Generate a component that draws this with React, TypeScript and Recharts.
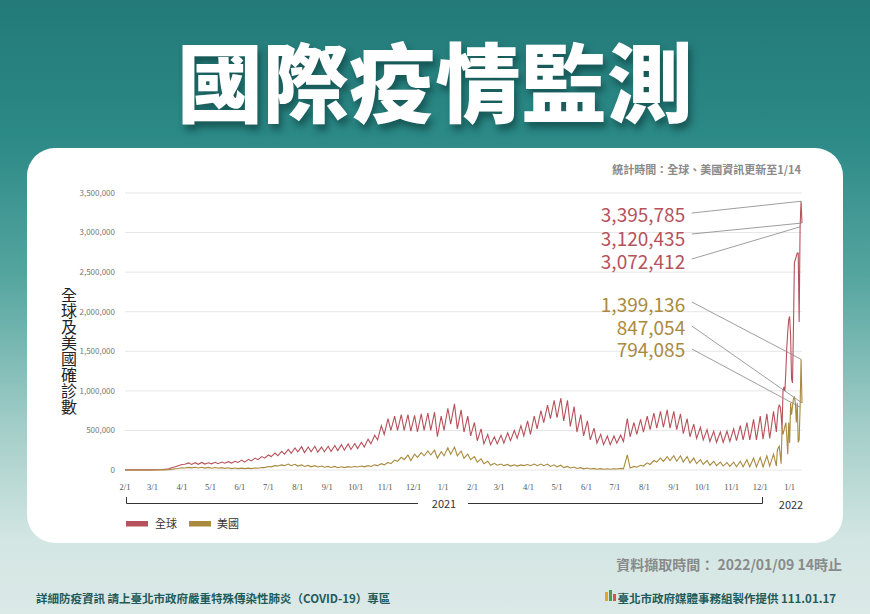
import React from "react";
import { LineChart, Line, XAxis, YAxis, CartesianGrid, ReferenceLine, ReferenceDot } from "recharts";

// weekly low / high of daily new cases, in thousands, one pair per week from 2020-02-01
const globalLow = [
  2, 2, 1, 1, 1, 3, 10, 28, 55, 72, 70, 72, 75, 78, 80, 85, 88, 95, 100, 115,
  130, 150, 170, 180, 200, 210, 230, 220, 230, 225, 230, 235, 245, 250, 260, 270, 290, 330, 380, 450,
  500, 500, 500, 490, 480, 500, 500, 420, 500, 580, 520, 480, 430, 370, 330, 320, 330, 340, 370, 400,
  430, 450, 520, 600, 650, 660, 620, 550, 480, 430, 380, 340, 320, 320, 340, 360, 420, 450, 480, 510,
  530, 540, 530, 510, 460, 420, 400, 380, 360, 350, 350, 360, 370, 380, 380, 380, 390, 400,
];
const globalHigh = [
  3, 3, 3, 2, 3, 6, 16, 40, 70, 90, 92, 95, 92, 98, 100, 105, 110, 125, 135, 150,
  170, 190, 215, 235, 260, 280, 295, 290, 300, 290, 300, 310, 320, 330, 335, 350, 390, 440, 560, 650,
  680, 700, 700, 690, 710, 720, 730, 680, 780, 835, 760, 680, 600, 520, 450, 420, 440, 470, 500, 560,
  620, 680, 750, 820, 880, 910, 880, 800, 700, 620, 530, 450, 430, 430, 440, 650, 600, 640, 680, 720,
  740, 760, 740, 710, 650, 580, 540, 510, 490, 480, 490, 520, 560, 600, 640, 680, 710, 740,
];
const usLow = [
  0, 0, 0, 0, 0, 0, 1, 8, 18, 25, 27, 25, 24, 22, 22, 20, 18, 17, 17, 18,
  22, 30, 40, 50, 55, 55, 50, 45, 40, 38, 35, 32, 28, 30, 35, 38, 40, 45, 55, 65,
  80, 110, 130, 120, 160, 180, 190, 150, 180, 200, 180, 150, 130, 100, 80, 60, 60, 55, 50, 50,
  55, 55, 55, 55, 45, 40, 30, 25, 20, 15, 12, 10, 10, 10, 12, 15, 25, 35, 50, 70,
  100, 110, 120, 110, 100, 90, 80, 70, 60, 55, 50, 45, 40, 40, 40, 40, 40, 50,
];
const usHigh = [
  0, 0, 0, 0, 0, 1, 3, 15, 28, 33, 34, 35, 33, 32, 30, 28, 25, 24, 24, 26,
  32, 45, 55, 65, 75, 72, 65, 58, 55, 50, 45, 45, 40, 42, 45, 50, 55, 65, 80, 95,
  125, 160, 190, 200, 220, 240, 250, 230, 280, 290, 240, 200, 170, 140, 110, 85, 75, 70, 65, 65,
  70, 75, 75, 75, 65, 60, 45, 38, 30, 25, 20, 17, 15, 15, 20, 190, 45, 60, 90, 120,
  150, 170, 180, 180, 170, 150, 130, 120, 110, 100, 95, 100, 110, 130, 150, 160, 180, 200,
];

// daily values, in thousands, 2021-12-18 .. 2022-01-14
const tailStart = 686;
const globalTail = [
  480, 650, 780, 820, 800, 700, 520, 1000, 1050, 1000, 1250, 1550, 1750, 1900,
  1940, 1700, 1150, 1100, 1800, 2620, 2660, 2700, 2740, 2740, 1870, 3072.412, 3395.785, 3120.435,
];
const usTail = [
  50, 250, 280, 300, 200, 80, 540, 450, 500, 550, 600, 420, 200, 600,
  340, 850, 700, 800, 900, 920, 850, 600, 850, 350, 380, 794.085, 1399.136, 847.054,
];

const monthDays = [0, 29, 60, 90, 121, 151, 182, 213, 243, 274, 304, 335, 366, 394, 425, 455, 486, 516, 547, 578, 608, 639, 669, 700];
const monthLabels = ["2/1", "3/1", "4/1", "5/1", "6/1", "7/1", "8/1", "9/1", "10/1", "11/1", "12/1", "1/1", "2/1", "3/1", "4/1", "5/1", "6/1", "7/1", "8/1", "9/1", "10/1", "11/1", "12/1", "1/1"];
const yTicks = [0, 500000, 1000000, 1500000, 2000000, 2500000, 3000000, 3500000];

const calloutLabels = ["3,395,785", "3,120,435", "3,072,412", "1,399,136", "847,054", "794,085"];
const calloutDays = [712, 713, 711, 712, 713, 711];
const calloutValues = [3395785, 3120435, 3072412, 1399136, 847054, 794085];

// where the callout texts sit (chart units)
const calloutTextX = 590;
const calloutLineX = 597;
const calloutTextY = [3235000, 2944000, 2653000, 2110000, 1819000, 1529000];
const calloutLineY = [3247000, 2982000, 2666000, 2123000, 1819000, 1529000];

const RED = "#b6525b";
const GOLD = "#a98a3e";
const FONT = "'Noto Sans CJK TC', 'Noto Sans', sans-serif";

const rows: { d: number; g: number; u: number }[] = [];
globalLow.forEach((lo, w) => {
  rows.push({ d: w * 7, g: lo * 1000, u: usLow[w] * 1000 });
  rows.push({ d: w * 7 + 4, g: globalHigh[w] * 1000, u: usHigh[w] * 1000 });
});
globalTail.forEach((v, i) => {
  rows.push({ d: tailStart + i, g: Math.round(v * 1000), u: Math.round(usTail[i] * 1000) });
});

const dayLabel = (d: number) => monthLabels[monthDays.indexOf(d)] ?? "";

const App = () => (
  <div style={{ position: "absolute", left: 0, top: 0, width: 870, height: 614, overflow: "hidden", fontFamily: FONT,
    background: "linear-gradient(180deg, #237a78 0%, #2b8986 22%, #55a59f 45%, #a4cec9 70%, #d3e6e3 88%, #dbe9e7 100%)" }}>
    <div style={{ position: "absolute", left: 0, top: 36, width: 870, textAlign: "center", fontSize: 86, lineHeight: "86px",
      fontWeight: 900, color: "#fff", textShadow: "3px 6px 7px rgba(8,50,50,0.55)" }}>
      國際疫情監測
    </div>
    <div style={{ position: "absolute", left: 27, top: 148, width: 816, height: 395, borderRadius: 28, background: "#fff" }} />
    <div style={{ position: "absolute", right: 69, top: 161, fontSize: 11, fontWeight: 700, color: "#8a8a8a" }}>
      統計時間：全球、美國資訊更新至1/14
    </div>
    <div style={{ position: "absolute", left: 60, top: 287, fontSize: 16, lineHeight: "17px", color: "#222", writingMode: "vertical-rl" }}>
      全球及美國確診數
    </div>

    <div style={{ position: "absolute", left: 0, top: 0 }}>
      <LineChart width={870} height={614} data={rows} margin={{ top: 193, right: 68, left: 65, bottom: 114 }}>
        <CartesianGrid horizontal vertical={false} stroke="#e6e6e6" />
        <XAxis dataKey="d" type="number" domain={[0, 713]} ticks={monthDays} interval={0} tickFormatter={dayLabel}
          axisLine={false} tickLine={false} tickMargin={8}
          tick={{ fontSize: 8.5, fill: "#555", fontFamily: "'Liberation Serif', serif" }} />
        <YAxis domain={[0, 3500000]} ticks={yTicks} width={60} axisLine={false} tickLine={false} tickMargin={4}
          tickFormatter={(v: number) => v.toLocaleString("en-US")} tick={{ fontSize: 8, fill: "#777" }} />
        <Line dataKey="g" stroke={RED} strokeWidth={1.1} dot={false} isAnimationActive={false} />
        <Line dataKey="u" stroke={GOLD} strokeWidth={1.1} dot={false} isAnimationActive={false} />
        {calloutLabels.map((label, i) => (
          <ReferenceLine key={"l" + i} segment={[{ x: calloutLineX, y: calloutLineY[i] }, { x: calloutDays[i], y: calloutValues[i] }]}
            stroke="#858585" strokeWidth={0.8} />
        ))}
        {calloutLabels.map((label, i) => (
          <ReferenceDot key={"t" + i} x={calloutTextX} y={calloutTextY[i]} r={0}
            shape={(p: any) => (
              <text x={p.cx} y={p.cy} textAnchor="end" dominantBaseline="central" fontSize={19}
                fill={i < 3 ? RED : GOLD} fontFamily={FONT}>{label}</text>
            )} />
        ))}
      </LineChart>
    </div>

    <svg width={870} height={614} style={{ position: "absolute", left: 0, top: 0, pointerEvents: "none" }}>
      <g stroke="#333" strokeWidth={1} fill="none">
        <path d="M126.5 497 V503.5 H418" />
        <path d="M468 503.5 H762.5 V497" />
      </g>
      <g fill="#333" fontSize={11} fontFamily={FONT} textAnchor="middle">
        <text x={444} y={508}>2021</text>
        <text x={791} y={509}>2022</text>
      </g>
      <rect x={126} y={521} width={22} height={5.5} fill={RED} />
      <text x={155} y={528} fontSize={11} fill="#333" fontFamily={FONT}>全球</text>
      <rect x={189} y={521} width={22} height={5.5} fill={GOLD} />
      <text x={217} y={528} fontSize={11} fill="#333" fontFamily={FONT}>美國</text>
      <g transform="translate(603,590)">
        <rect x={2} y={2} width={3} height={9} fill="#e2a52b" />
        <rect x={6} y={0} width={3} height={11} fill="#4a9d4b" />
        <rect x={10} y={4} width={3} height={7} fill="#d9534f" />
      </g>
    </svg>

    <div style={{ position: "absolute", right: 28, top: 554, fontSize: 14, fontWeight: 700, color: "#8a8a8a" }}>
      資料擷取時間： 2022/01/09 14時止
    </div>
    <div style={{ position: "absolute", left: 36, top: 590, fontSize: 11.5, fontWeight: 700, color: "#1f5b5a" }}>
      詳細防疫資訊 請上臺北市政府嚴重特殊傳染性肺炎（COVID-19）專區
    </div>
    <div style={{ position: "absolute", right: 34, top: 590, fontSize: 11.5, fontWeight: 700, color: "#1f5b5a" }}>
      臺北市政府媒體事務組製作提供 111.01.17
    </div>
  </div>
);

export default App;
